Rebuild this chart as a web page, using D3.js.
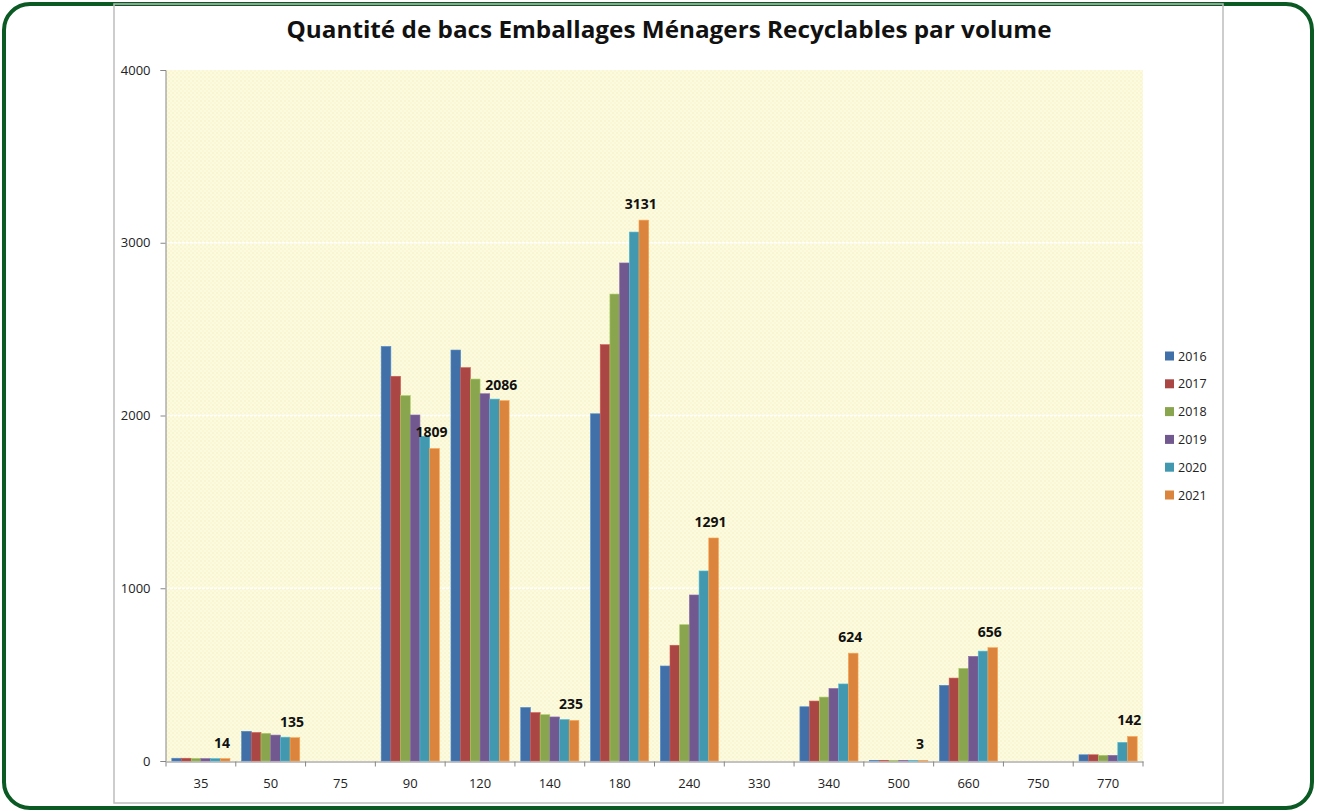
<!DOCTYPE html>
<html>
<head>
<meta charset="utf-8">
<script src="https://cdn.jsdelivr.net/npm/d3@7"></script>
<style>
  body { margin: 0; background: #fff; }
  svg { display: block; }
</style>
</head>
<body>
<div id="app"></div>
<script>
// données
const volumes = ['35', '50', '75', '90', '120', '140', '180', '240', '330', '340', '500', '660', '750', '770'];
const annees = ['2016', '2017', '2018', '2019', '2020', '2021'];
const v2016 = [16, 172, 0, 2400, 2379, 310, 2010, 550, 0, 314, 4, 438, 0, 36];
const v2017 = [16, 165, 0, 2227, 2277, 280, 2410, 670, 0, 347, 4, 480, 0, 36];
const v2018 = [15, 160, 0, 2115, 2211, 268, 2703, 789, 0, 370, 3, 536, 0, 33];
const v2019 = [14, 150, 0, 2003, 2126, 255, 2883, 961, 0, 420, 3, 606, 0, 33];
const v2020 = [14, 138, 0, 1880, 2095, 240, 3062, 1100, 0, 446, 3, 636, 0, 108];
const v2021 = [14, 135, 0, 1809, 2086, 235, 3131, 1291, 0, 624, 3, 656, 0, 142];
const yTicks = [0, 1000, 2000, 3000, 4000];
const titre = 'Quantité de bacs Emballages Ménagers Recyclables par volume';

const series = [v2016, v2017, v2018, v2019, v2020, v2021];
const couleurs = ['#4170A9', '#AA4643', '#89A54E', '#71588F', '#4198AF', '#DB843D'];

const width = 1319, height = 811;
const plot = { left: 166, right: 1143, top: 70, bottom: 761 };

const svg = d3.select('#app').append('svg')
    .attr('width', width)
    .attr('height', height);

// motif du fond (texture jaune pâle)
const defs = svg.append('defs');
const pat = defs.append('pattern')
    .attr('id', 'tex')
    .attr('width', 4).attr('height', 4)
    .attr('patternUnits', 'userSpaceOnUse');
pat.append('rect').attr('width', 4).attr('height', 4).attr('fill', '#FCFBE0');
pat.append('rect').attr('width', 2).attr('height', 2).attr('fill', '#F8F6D0');
pat.append('rect').attr('x', 2).attr('y', 2).attr('width', 2).attr('height', 2).attr('fill', '#F9F7D4');

// cadre extérieur vert
svg.append('rect')
    .attr('x', 4).attr('y', 4)
    .attr('width', 1308).attr('height', 804)
    .attr('rx', 26).attr('ry', 26)
    .attr('fill', '#fff')
    .attr('stroke', '#0B5A24')
    .attr('stroke-width', 4);

// cadre du graphique
svg.append('rect')
    .attr('x', 114).attr('y', 4)
    .attr('width', 1109).attr('height', 799)
    .attr('fill', 'none')
    .attr('stroke', '#BDBDBD')
    .attr('stroke-width', 1.5);

// titre
svg.append('text')
    .attr('x', 669).attr('y', 38)
    .attr('text-anchor', 'middle')
    .attr('font-family', 'Open Sans, sans-serif')
    .attr('font-weight', 'bold')
    .attr('font-size', 23)
    .attr('textLength', 765)
    .attr('lengthAdjust', 'spacingAndGlyphs')
    .attr('fill', '#111')
    .text(titre);

// échelles
const x0 = d3.scaleBand()
    .domain(volumes)
    .range([plot.left, plot.right])
    .paddingInner(0)
    .paddingOuter(0);

const x1 = d3.scaleBand()
    .domain(annees)
    .range([0, x0.bandwidth()])
    .paddingInner(0)
    .paddingOuter(0.6);

const y = d3.scaleLinear()
    .domain([0, 4000])
    .range([plot.bottom, plot.top]);

// zone de tracé
svg.append('rect')
    .attr('x', plot.left).attr('y', plot.top)
    .attr('width', plot.right - plot.left)
    .attr('height', plot.bottom - plot.top)
    .attr('fill', 'url(#tex)');

// quadrillage
svg.append('g')
    .selectAll('line')
    .data(yTicks.filter(d => d > 0 && d < 4000))
    .enter()
    .append('line')
    .attr('x1', plot.left).attr('x2', plot.right)
    .attr('y1', d => y(d)).attr('y2', d => y(d))
    .attr('stroke', '#ffffff')
    .attr('stroke-width', 1.5)
    .attr('stroke-dasharray', '3,1');

// barres
const groupes = svg.append('g')
    .selectAll('g')
    .data(volumes)
    .enter()
    .append('g')
    .attr('transform', d => `translate(${x0(d)},0)`);

groupes.selectAll('rect')
    .data((d, i) => annees.map((a, k) => ({ annee: a, valeur: series[k][i], k: k })))
    .enter()
    .append('rect')
    .attr('x', d => x1(d.annee))
    .attr('y', d => y(d.valeur))
    .attr('width', x1.bandwidth())
    .attr('height', d => y(0) - y(d.valeur))
    .attr('fill', d => couleurs[d.k])
    .attr('stroke', d => d3.color(couleurs[d.k]).brighter(0.6))
    .attr('stroke-width', 0.6);

// étiquettes de données (2021)
groupes.filter((d, i) => v2021[i] > 0)
    .append('text')
    .attr('x', x1('2021') + x1.bandwidth() / 2 - 3)
    .attr('y', d => y(v2021[volumes.indexOf(d)]) - 11)
    .attr('text-anchor', 'middle')
    .attr('font-family', 'Open Sans, sans-serif')
    .attr('font-weight', 'bold')
    .attr('font-size', 14)
    .attr('fill', '#111')
    .text(d => v2021[volumes.indexOf(d)]);

// axe y
const yAxis = d3.axisLeft(y)
    .tickValues(yTicks)
    .tickSize(5)
    .tickPadding(10)
    .tickFormat(d3.format('d'));
const gy = svg.append('g')
    .attr('transform', `translate(${plot.left - 0.5},0)`)
    .call(yAxis);
gy.select('.domain').attr('stroke', '#868686');
gy.selectAll('.tick line').attr('stroke', '#868686');
gy.selectAll('text')
    .attr('font-family', 'Open Sans, sans-serif')
    .attr('font-size', 13)
    .attr('fill', '#222');

// axe x
const xAxis = d3.axisBottom(x0).tickSize(0).tickPadding(17);
const gx = svg.append('g')
    .attr('transform', `translate(0,${plot.bottom + 0.5})`)
    .call(xAxis);
gx.select('.domain').attr('stroke', '#868686');
gx.selectAll('text')
    .attr('font-family', 'Open Sans, sans-serif')
    .attr('font-size', 13)
    .attr('fill', '#222');
// graduations entre catégories
gx.append('g')
    .selectAll('line')
    .data(volumes.map(v => x0(v)).concat([plot.right]))
    .enter()
    .append('line')
    .attr('x1', d => d).attr('x2', d => d)
    .attr('y1', 0).attr('y2', 5)
    .attr('stroke', '#868686');

// légende
const leg = svg.append('g')
    .selectAll('g')
    .data(annees)
    .enter()
    .append('g')
    .attr('transform', (d, i) => `translate(1165,${356 + i * 27.8})`);
leg.append('rect')
    .attr('x', 0).attr('y', -4.5)
    .attr('width', 9).attr('height', 9)
    .attr('fill', (d, i) => couleurs[i]);
leg.append('text')
    .attr('x', 13).attr('y', 4.5)
    .attr('font-family', 'Open Sans, sans-serif')
    .attr('font-size', 12.5)
    .attr('fill', '#222')
    .text(d => d);
</script>
</body>
</html>
